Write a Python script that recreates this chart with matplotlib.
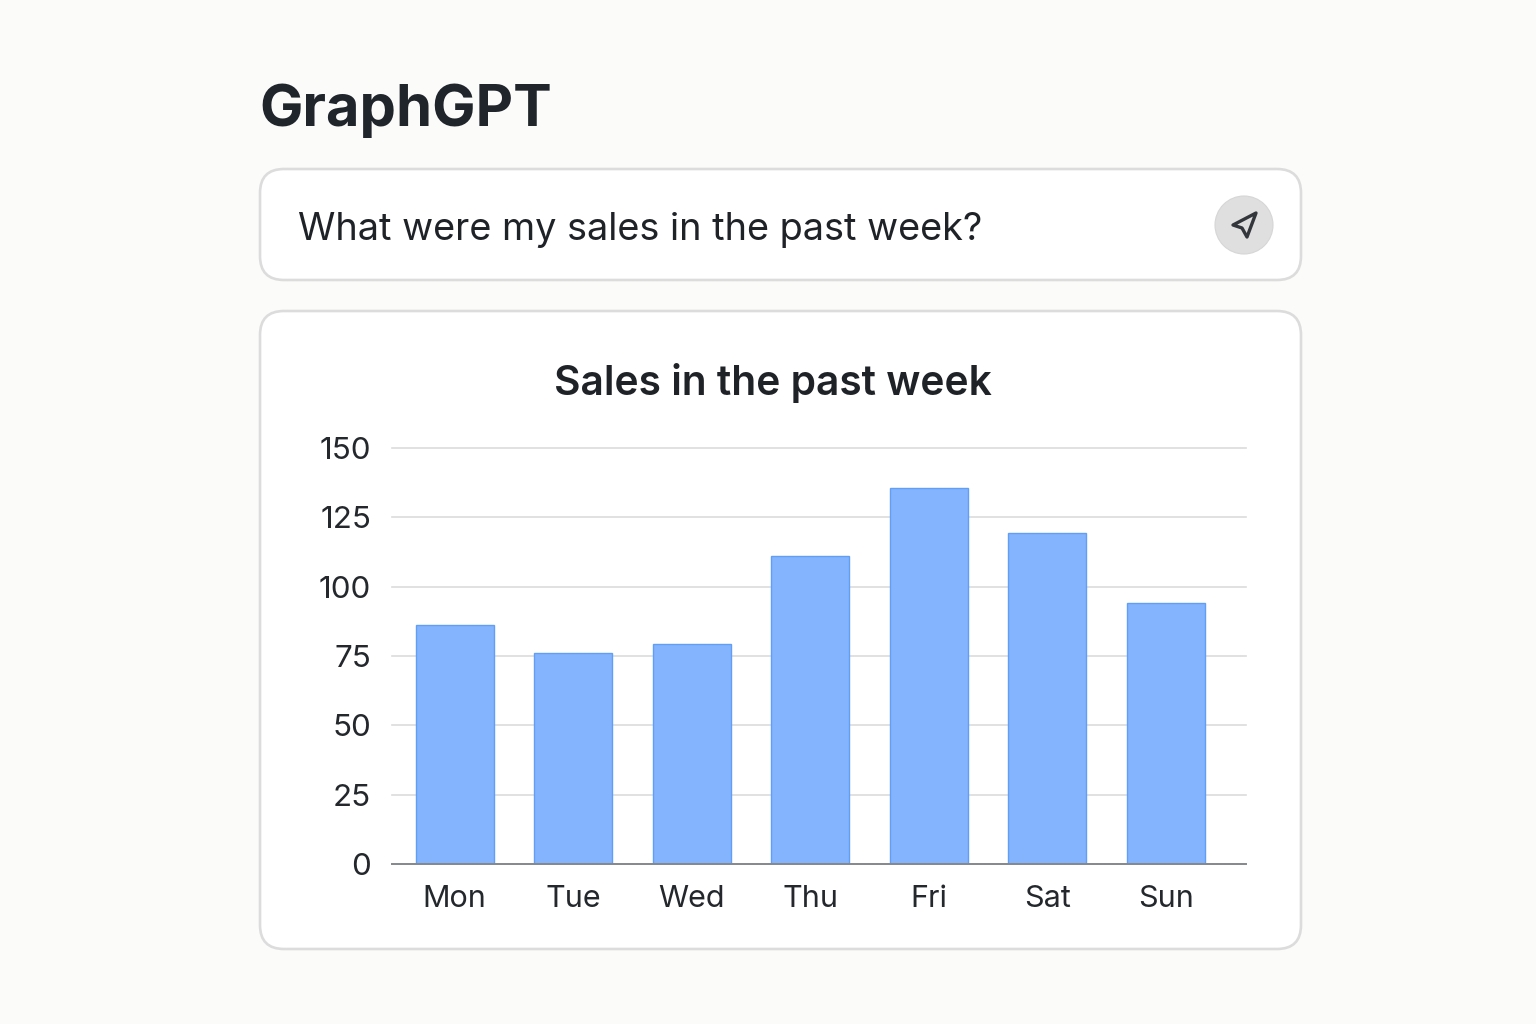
# GraphGPT mockup: prompt box plus weekly sales bar chart

import matplotlib
matplotlib.use('Agg')
import matplotlib.pyplot as plt
from matplotlib.patches import FancyBboxPatch, Circle, Polygon

plt.rcParams['font.family'] = ['Inter', 'DejaVu Sans']

# Data
days = ['Mon', 'Tue', 'Wed', 'Thu', 'Fri', 'Sat', 'Sun']
sales = [86, 76, 79.5, 111, 135.5, 119.5, 94]
y_ticks = [0, 25, 50, 75, 100, 125, 150]

W, H = 1536, 1024
fig = plt.figure(figsize=(W / 100, H / 100), dpi=100, facecolor='#fbfbfa')

# Background layer in pixel coordinates for the page elements
bg = fig.add_axes([0, 0, 1, 1])
bg.set_xlim(0, W)
bg.set_ylim(H, 0)
bg.axis('off')

bg.text(259, 111, 'GraphGPT', fontsize=41.7, fontweight='bold', color='#1f252b',
        va='center', ha='left')

# Prompt box
bg.add_patch(FancyBboxPatch((260, 169), 1041, 111, boxstyle='round,pad=0,rounding_size=24',
                            fc='white', ec='#dcdcdc', lw=1.9))
bg.text(298, 230, 'What were my sales in the past week?', fontsize=27.3, color='#1f2328',
        va='center', ha='left')
bg.add_patch(Circle((1244, 225), 29, fc='#dfdfdf', ec='#d6d6d6', lw=0.8))
bg.add_patch(Polygon([(1256, 213), (1233, 225), (1242, 228), (1247, 237)], closed=True,
                     fc='none', ec='#33363a', lw=2.4, joinstyle='round'))

# Chart card
bg.add_patch(FancyBboxPatch((260, 311), 1041, 638, boxstyle='round,pad=0,rounding_size=24',
                            fc='white', ec='#dcdcdc', lw=1.9))
bg.text(773, 383, 'Sales in the past week', fontsize=29.3, fontweight='semibold', color='#1f2328',
        va='center', ha='center')

# Chart axes
left, right, top, bottom = 392, 1246, 448, 864
ax = fig.add_axes([left / W, 1 - bottom / H, (right - left) / W, (bottom - top) / H])
ax.patch.set_alpha(0)

ax.bar(days, sales, width=0.66, color='#85b4ff', edgecolor='#619ff5', linewidth=1.0, zorder=2)

ax.set_xlim(-0.53, 6.677)
ax.set_ylim(0, 150)
ax.set_yticks(y_ticks)
ax.grid(axis='y', color='#dcdcdc', linewidth=1.2, zorder=0, clip_on=False)
ax.set_axisbelow(True)

for side in ['top', 'right', 'left']:
    ax.spines[side].set_visible(False)
ax.spines['bottom'].set_color('#85888c')
ax.spines['bottom'].set_linewidth(1.4)
ax.spines['bottom'].set_zorder(3)

ax.tick_params(axis='both', length=0, labelsize=22, labelcolor='#24282c')
ax.tick_params(axis='x', pad=15)
ax.tick_params(axis='y', labelsize=22.6, pad=15)

fig.savefig('out.png', dpi=100, facecolor=fig.get_facecolor())
